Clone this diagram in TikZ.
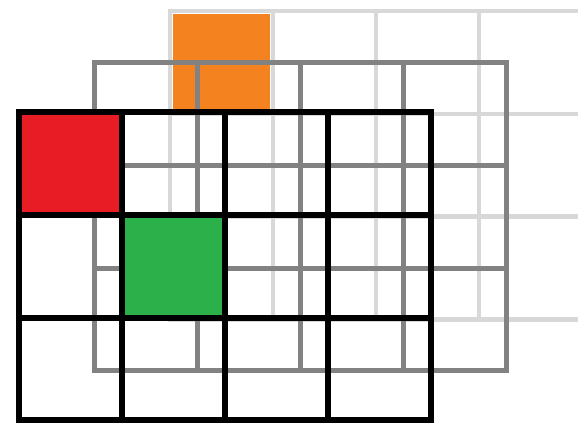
\documentclass[tikz,border=0pt]{standalone}
\usetikzlibrary{calc}
\definecolor{backgray}{HTML}{D8D8D8}
\definecolor{midgray}{HTML}{828282}
\definecolor{cellorange}{HTML}{F4821F}
\definecolor{cellred}{HTML}{E81C24}
\definecolor{cellgreen}{HTML}{2CB04A}
\tikzset{
  backline/.style={draw=backgray, line width=4.5pt, line cap=rect},
  midline/.style={draw=midgray, line width=5pt, line cap=rect},
  frontline/.style={draw=black, line width=6pt, line cap=rect},
  pics/cellgrid/.style={code={
    \foreach \i in {0,...,4} {\draw[#1] (\i*103,0) -- (\i*103,3*102.8);}
    \foreach \j in {0,...,3} {\draw[#1] (0,\j*102.8) -- (4*103,\j*102.8);}
  }}
}
\begin{document}
\begin{tikzpicture}[x=1pt,y=-1pt]
\useasboundingbox (0,0) rectangle (578,426);
\clip (0,0) rectangle (578,426);
\fill[white] (0,0) rectangle (578,426);
% back layer
\pic at (170,11) {cellgrid=backline};
\draw[backline] (582,11) -- (600,11) (582,113.8) -- (600,113.8) (582,216.6) -- (600,216.6) (582,319.4) -- (600,319.4);
\fill[cellorange] (172.5,13.5) rectangle (270,112);
% middle layer
\pic at (94,62.5) {cellgrid=midline};
% front layer
\fill[cellred] (19,112) rectangle (122,214.8);
\fill[cellgreen] (122,214.8) rectangle (225,317.6);
\pic at (19,112) {cellgrid=frontline};
\end{tikzpicture}
\end{document}
